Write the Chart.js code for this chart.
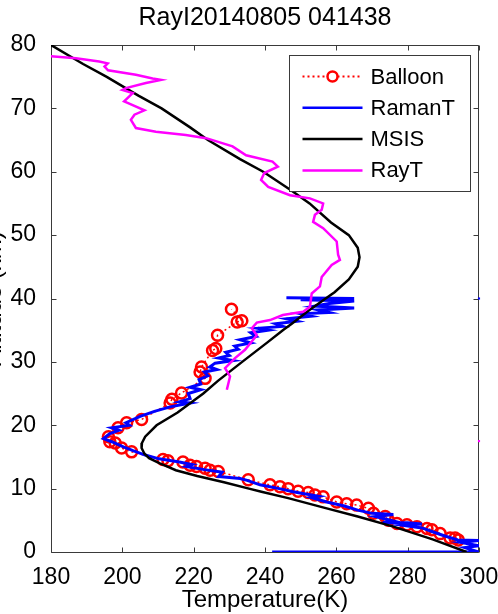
<!DOCTYPE html>
<html>
<head>
<meta charset="utf-8">
<script src="https://cdn.jsdelivr.net/npm/chart.js@4.4.1/dist/chart.umd.min.js"></script>
<style>
  html, body { margin: 0; padding: 0; background: #fff; }
</style>
</head>
<body>
<canvas id="canvas" width="498" height="614"></canvas>
<script>
// axis ticks
const xTicks = [180, 200, 220, 240, 260, 280, 300];
const yTicks = [0, 10, 20, 30, 40, 50, 60, 70, 80];

// Balloon sounding
const balloonTemp = [294.2, 293.3, 291.9, 289.1, 286.8, 285.4, 282.6, 279.8, 277.0, 274.6, 273.7, 270.4, 269.0, 265.7, 262.9, 260.1, 256.3, 254.0, 252.1, 249.3, 246.5, 244.2, 241.4, 235.3, 226.9, 224.6, 223.2, 220.8, 219.0, 217.0, 212.8, 211.4, 202.6, 199.8, 198.0, 196.5, 196.1, 198.8, 201.2, 205.4, 213.4, 213.9, 216.6, 223.2, 221.8, 222.2, 225.3, 226.2, 226.7, 232.2, 233.5, 230.6];
const balloonAlt = [1.9, 2.2, 2.2, 2.9, 3.5, 3.7, 4.0, 4.3, 4.5, 5.0, 5.6, 6.1, 6.9, 7.4, 7.6, 7.9, 8.7, 9.0, 9.4, 9.6, 10.0, 10.3, 10.6, 11.4, 12.7, 12.9, 13.2, 13.5, 13.7, 14.2, 14.4, 14.6, 15.8, 16.4, 17.2, 17.4, 18.2, 19.6, 20.4, 20.9, 23.5, 24.1, 25.1, 27.4, 28.4, 29.2, 31.8, 32.1, 34.2, 36.3, 36.5, 38.3];

// Raman lidar temperature
const ramanTemp = [246, 265, 250, 265, 258, 254, 265, 255, 258, 250, 253, 246, 249, 243, 245, 238, 241, 236, 237.5, 233, 236, 231.5, 232.5, 229, 230, 227, 231, 226, 224.5, 226.5, 223, 224, 221.5, 222, 219, 222, 218.5, 219, 216, 219, 213.4, 209, 205, 201, 202, 197, 199, 196.5, 194.7, 197, 200.3, 203, 206.4, 210.3, 216, 219.6, 218, 223, 228, 227, 233, 235, 238.6, 244, 247.9, 251, 255, 253, 257.3, 262, 266, 270, 276, 271, 276, 273, 280, 284, 279, 284, 287, 290, 294, 300, 295, 300, 296, 300, 242];
const ramanAlt = [40.1, 40.0, 39.8, 39.6, 39.2, 38.8, 38.5, 38.2, 37.8, 37.6, 37.2, 36.8, 36.4, 36.0, 35.6, 35.3, 35.0, 34.6, 34.0, 33.5, 33.0, 32.5, 32.0, 31.5, 31.0, 30.6, 30.2, 29.8, 29.2, 28.8, 28.4, 27.8, 27.2, 26.5, 26.0, 25.6, 25.0, 24.2, 23.7, 23.5, 22.9, 22.2, 21.4, 20.4, 20.0, 19.6, 19.2, 18.7, 17.9, 17.4, 16.6, 16.0, 15.3, 14.7, 14.2, 13.8, 13.5, 13.0, 12.6, 11.9, 11.6, 11.3, 10.6, 10.0, 9.5, 9.2, 8.8, 8.6, 7.9, 7.3, 6.6, 6.1, 5.9, 5.6, 4.9, 4.6, 4.6, 4.4, 4.2, 3.8, 3.2, 2.6, 1.9, 1.8, 1.5, 1.0, 0.7, 0.0, 0.0];

// MSIS model
const msisTemp = [180, 189, 195.5, 204.5, 211, 219, 224, 233, 239.5, 247.5, 252.5, 258.5, 263.5, 266, 266.5, 266, 263.5, 259.5, 257, 252, 247.5, 245, 240.5, 233.6, 226.8, 222.7, 215.5, 209.6, 206.4, 205.5, 205.4, 206.2, 207.5, 210.5, 212.5, 215, 221, 228.5, 235.5, 239, 246.5, 256.5, 266, 276, 287, 296.5];
const msisAlt = [80, 77, 75, 72, 70, 67, 65, 62, 60, 57, 55, 52, 50, 48, 46.5, 45, 43, 41, 40, 38, 36, 35, 33, 30, 27, 25, 22, 20, 18.2, 17.2, 16.4, 15.5, 14.8, 14, 13.5, 12.9, 12, 11, 10, 9.5, 8.5, 7, 5.6, 4, 2, 0];

// Rayleigh lidar temperature
const rayTemp = [178, 187, 193.5, 195.9, 195, 196, 203.8, 208.5, 210.8, 206.6, 201, 200, 202.9, 200.5, 202.9, 206.2, 203.4, 202.4, 203.8, 209.4, 217.8, 223.5, 230.9, 234.7, 242.1, 243.6, 239.8, 238.9, 240.9, 247, 252.6, 256.3, 255.9, 254, 253.5, 256.3, 260.1, 260.5, 261, 258.7, 255.9, 255.4, 253.1, 252.6, 250.7, 245, 241.4, 237.7, 236.3, 237.7, 234.4, 231.6, 228.8, 230.2, 229.3];
const rayAlt = [78.3, 77.9, 77.4, 77.1, 76.6, 76.0, 75.3, 74.7, 74.5, 74.0, 73.2, 72.9, 72.4, 71.1, 70.5, 69.7, 69.0, 68.2, 66.9, 66.3, 65.8, 65.3, 64.0, 62.6, 61.6, 60.8, 59.8, 58.7, 57.6, 56.3, 55.8, 55.0, 54.0, 53.2, 52.1, 51.1, 49.0, 46.9, 46.1, 45.3, 43.4, 41.9, 40.8, 38.7, 37.9, 37.4, 36.6, 36.2, 35.3, 34.2, 31.9, 30.6, 29.0, 27.7, 25.6];

// stray single points sitting on the right axis
const ramanDotTemp = [300];
const ramanDotAlt = [40];
const rayDotTemp = [300];
const rayDotAlt = [17.5];

const toPoints = (xs, ys) => xs.map((v, i) => ({ x: v, y: ys[i] }));

const fontFamily = "'Liberation Sans', Arial, sans-serif";
Chart.defaults.font.family = fontFamily;
Chart.defaults.color = '#000';

const legendItems = [
  { label: 'Balloon', color: '#ff0000', dash: [2, 3], width: 2, marker: true },
  { label: 'RamanT', color: '#0000ff', dash: [], width: 2.5 },
  { label: 'MSIS', color: '#000000', dash: [], width: 2.5 },
  { label: 'RayT', color: '#ff00ff', dash: [], width: 2.5 }
];

// box round the plot with inward tick marks, like matlab
const axesBox = {
  id: 'axesBox',
  beforeDatasetsDraw(chart) {
    const { ctx, chartArea: a, scales } = chart;
    const L = Math.round(a.left) + 0.5;
    const R = Math.round(a.right) - 0.5;
    const T = Math.round(a.top) + 0.5;
    const B = Math.round(a.bottom) + 0.5;
    ctx.save();
    ctx.strokeStyle = '#3a3a3a';
    ctx.lineWidth = 1;
    ctx.beginPath();
    ctx.rect(L, T, R - L, B - T);
    xTicks.forEach(v => {
      const px = Math.round(scales.x.getPixelForValue(v)) + 0.5;
      ctx.moveTo(px, B); ctx.lineTo(px, B - 5);
      ctx.moveTo(px, T); ctx.lineTo(px, T + 5);
    });
    yTicks.forEach(v => {
      const py = Math.round(scales.y.getPixelForValue(v)) + 0.5;
      ctx.moveTo(L, py); ctx.lineTo(L + 5, py);
      ctx.moveTo(R, py); ctx.lineTo(R - 5, py);
    });
    ctx.stroke();
    ctx.restore();
  }
};

const boxLegend = {
  id: 'boxLegend',
  afterDatasetsDraw(chart) {
    const { ctx, chartArea: a } = chart;
    const left = Math.round(a.right) - 189.5;
    const top = Math.round(a.top) + 10.5;
    const w = 181, h = 136;
    ctx.save();
    ctx.fillStyle = '#fff';
    ctx.fillRect(left, top, w, h);
    ctx.strokeStyle = '#3a3a3a';
    ctx.lineWidth = 1;
    ctx.strokeRect(left, top, w, h);
    legendItems.forEach((item, i) => {
      const y = top + 21 + i * 31.3;
      ctx.strokeStyle = item.color;
      ctx.lineWidth = item.width;
      ctx.setLineDash(item.dash);
      ctx.beginPath();
      ctx.moveTo(left + 13, y);
      ctx.lineTo(left + 73, y);
      ctx.stroke();
      ctx.setLineDash([]);
      if (item.marker) {
        ctx.fillStyle = '#fff';
        ctx.beginPath();
        ctx.arc(left + 43, y, 5, 0, Math.PI * 2);
        ctx.fill();
        ctx.lineWidth = 2.5;
        ctx.stroke();
      }
      ctx.fillStyle = '#000';
      ctx.font = '22px ' + fontFamily;
      ctx.textAlign = 'left';
      ctx.textBaseline = 'middle';
      ctx.fillText(item.label, left + 81, y + 1);
    });
    ctx.restore();
  }
};

const ctx = document.getElementById('canvas').getContext('2d');
const chart = new Chart(ctx, {
  type: 'scatter',
  data: {
    datasets: [
      {
        label: 'Balloon',
        data: toPoints(balloonTemp, balloonAlt),
        showLine: true,
        borderColor: '#ff0000',
        borderWidth: 1.5,
        borderDash: [2, 3],
        pointRadius: 5.5,
        pointBorderWidth: 2.5,
        pointBorderColor: '#ff0000',
        pointBackgroundColor: 'rgba(0,0,0,0)',
        order: 4
      },
      {
        label: 'RamanT',
        data: toPoints(ramanTemp, ramanAlt),
        showLine: true,
        borderColor: '#0000ff',
        borderWidth: 3,
        pointRadius: 0,
        order: 3
      },
      {
        label: 'MSIS',
        data: toPoints(msisTemp, msisAlt),
        showLine: true,
        borderColor: '#000000',
        borderWidth: 2.5,
        pointRadius: 0,
        order: 2
      },
      {
        label: 'RayT',
        data: toPoints(rayTemp, rayAlt),
        showLine: true,
        borderColor: '#ff00ff',
        borderWidth: 2.5,
        pointRadius: 0,
        order: 1
      },
      {
        label: 'RamanDot',
        data: toPoints(ramanDotTemp, ramanDotAlt),
        pointStyle: 'rect',
        pointRadius: 1.5,
        borderWidth: 0,
        backgroundColor: '#0000ff',
        clip: false,
        order: 0
      },
      {
        label: 'RayDot',
        data: toPoints(rayDotTemp, rayDotAlt),
        pointStyle: 'rect',
        pointRadius: 1.5,
        borderWidth: 0,
        backgroundColor: '#ff00ff',
        clip: false,
        order: 0
      }
    ]
  },
  options: {
    responsive: false,
    animation: false,
    layout: { padding: { top: 0, right: 19, bottom: 0, left: 0 } },
    plugins: {
      legend: { display: false },
      tooltip: { enabled: false },
      title: {
        display: true,
        text: 'RayI20140805 041438',
        fullSize: false,
        font: { size: 25, weight: 'normal' },
        color: '#000',
        padding: { top: 3, bottom: 12 }
      }
    },
    scales: {
      x: {
        type: 'linear',
        min: 180,
        max: 300,
        grid: { display: false },
        border: { display: false },
        ticks: {
          stepSize: 20,
          autoSkip: false,
          maxRotation: 0,
          padding: 4,
          font: { size: 23 },
          color: '#000'
        },
        title: {
          display: true,
          text: 'Temperature(K)',
          font: { size: 24 },
          color: '#000',
          padding: { top: 0, bottom: -1 }
        },
        afterFit(scale) {
          scale.height = 62;
          scale.paddingLeft = 0;
          scale.paddingRight = 0;
        }
      },
      y: {
        type: 'linear',
        min: 0,
        max: 80,
        grid: { display: false },
        border: { display: false },
        ticks: {
          stepSize: 10,
          autoSkip: false,
          padding: 7,
          font: { size: 23 },
          color: '#000'
        },
        title: {
          display: true,
          text: 'Altitude (km)',
          font: { size: 24 },
          color: '#000',
          padding: { top: -20, bottom: 0 }
        },
        afterFit(scale) {
          scale.width = 51;
          scale.paddingTop = 0;
          scale.paddingBottom = 0;
        }
      }
    }
  },
  plugins: [axesBox, boxLegend]
});
</script>
</body>
</html>
